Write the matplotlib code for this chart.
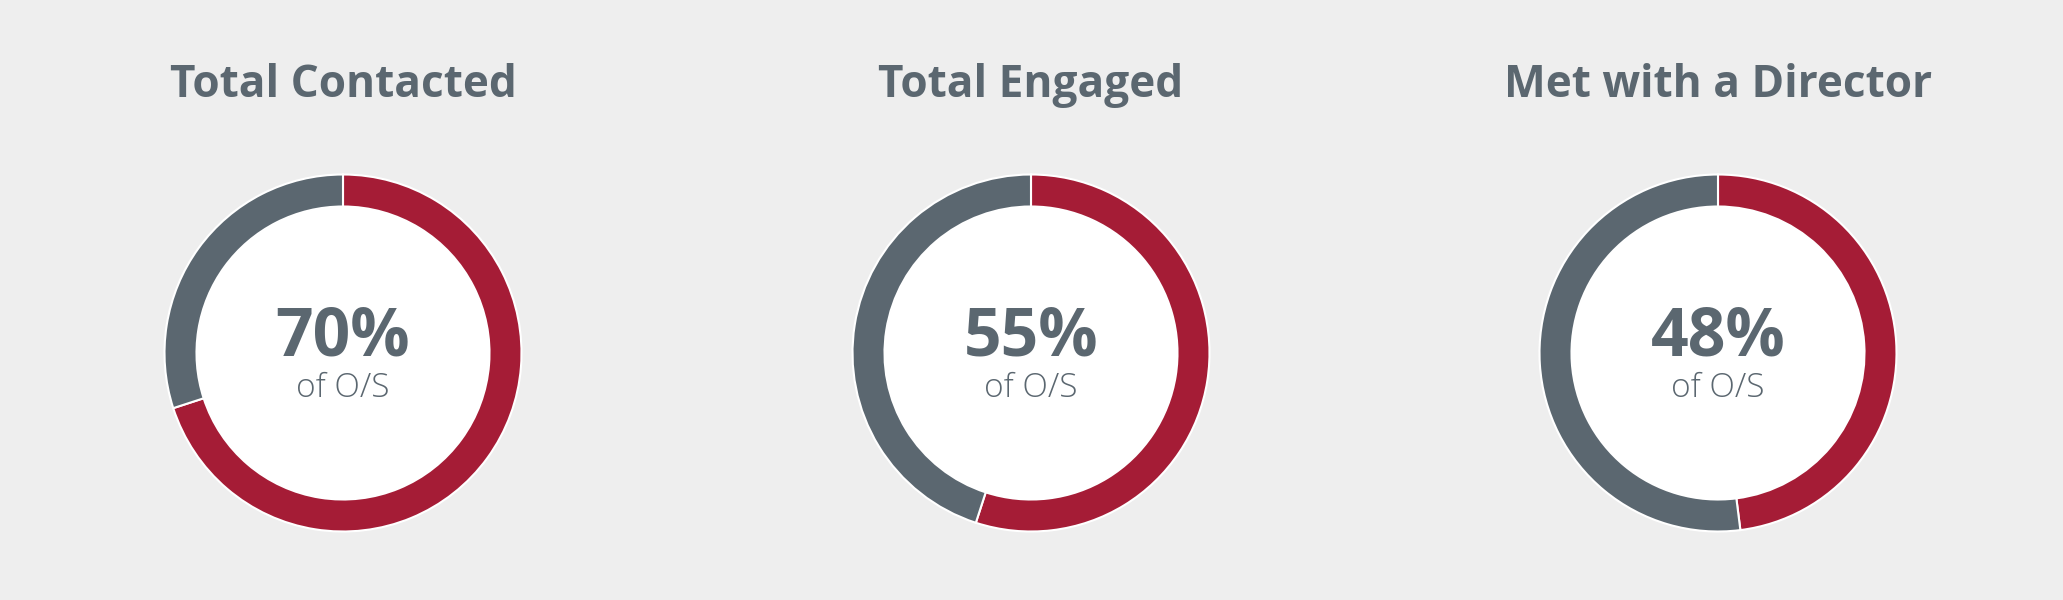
import matplotlib
matplotlib.use("Agg")
import matplotlib.pyplot as plt
from matplotlib.patches import Circle

# data
titles = ["Total Contacted", "Total Engaged", "Met with a Director"]
percents = [70, 55, 48]
subtitle = "of O/S"

red = "#A51C36"
grey = "#5B6770"
bg = "#EEEEEE"

W, H = 2063, 600
fig = plt.figure(figsize=(W / 100, H / 100), dpi=100, facecolor=bg)
ax = fig.add_axes([0, 0, 1, 1])

centers_x = [343, 1031, 1718]
cy = 600 - 353
r_out, r_in = 178.5, 146.5

for cx, title, p in zip(centers_x, titles, percents):
    ax.pie([p, 100 - p], colors=[red, grey], startangle=90, counterclock=False,
           center=(cx, cy), radius=r_out, frame=True,
           wedgeprops=dict(width=r_out - r_in, edgecolor="white", linewidth=1.5))
    ax.add_patch(Circle((cx, cy), r_in, facecolor="white", edgecolor="none", zorder=3))
    ax.text(cx, 600 - 97, title, ha="center", va="baseline", fontsize=31.8,
            fontfamily="Open Sans", fontweight="bold", color=grey)
    ax.text(cx, 600 - 355, f"{p}%", ha="center", va="baseline", fontsize=47.5,
            fontfamily="Open Sans", fontweight="bold", color=grey, zorder=4)
    ax.text(cx, 600 - 397, subtitle, ha="center", va="baseline", fontsize=24,
            fontfamily="Open Sans", fontweight="light", color=grey, zorder=4)

ax.set_xlim(0, W)
ax.set_ylim(0, H)
ax.set_aspect("equal")
ax.axis("off")
fig.savefig("out.png", dpi=100, facecolor=bg)
